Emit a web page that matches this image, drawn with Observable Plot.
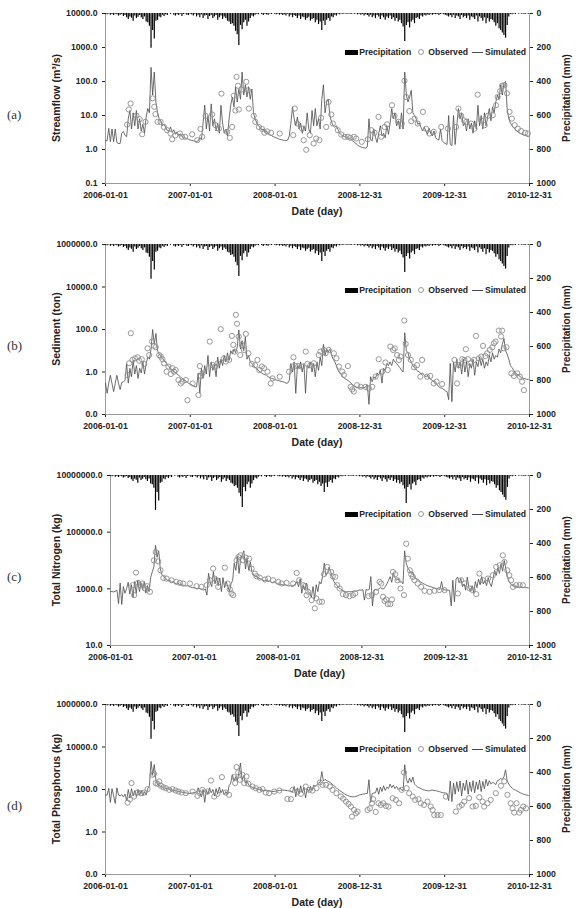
<!DOCTYPE html>
<html><head><meta charset="utf-8">
<script src="https://cdn.jsdelivr.net/npm/d3@7"></script>
<script src="https://cdn.jsdelivr.net/npm/@observablehq/plot@0.6"></script>
<style>
html,body{margin:0;padding:0;background:#fff;overflow:hidden;width:577px;height:908px;}
#root{position:relative;width:577px;height:908px;}
.panel{position:absolute;left:0;width:577px;height:230px;}
.panel svg.plotsvg{position:absolute;left:0;top:0;}
.tag{position:absolute;left:7px;font-family:"Liberation Serif","DejaVu Serif",serif;font-size:13px;color:#333;transform:translateY(-50%);}
.ytitle,.rtitle{position:absolute;font-family:"Liberation Sans",Arial,sans-serif;font-weight:bold;color:#222;white-space:nowrap;transform:translate(-50%,-50%) rotate(-90deg);}
.ytitle{font-size:10.5px;}
.rtitle{font-size:10px;}
.xtitle{position:absolute;font-family:"Liberation Sans",Arial,sans-serif;font-weight:bold;font-size:10.5px;color:#222;white-space:nowrap;transform:translate(-50%,-50%);}
.legend{position:absolute;right:51px;display:flex;align-items:center;font-family:"Liberation Sans",Arial,sans-serif;font-weight:bold;font-size:8.6px;color:#222;transform:translateY(-50%);white-space:nowrap;}
</style>
</head><body><div id="root"></div>
<script>
// ---------- DATA (weekly series starting 2006-01-01) ----------
const xTickLabels = ["2006-01-01","2007-01-01","2008-01-01","2008-12-31","2009-12-31","2010-12-31"];
const precipTicks = [0,200,400,600,800,1000];

const precip = [5,8,3,10,6,12,4,8,15,10,6,18,12,
25,35,20,28,45,15,30,22,12,25,35,20,50,
55,75,205,100,150,45,40,20,25,10,18,8,12,0,
5,0,10,15,8,12,5,18,6,3,10,12,4,
8,15,6,20,10,25,8,30,15,12,35,18,10,
30,20,12,40,25,15,35,20,30,45,50,65,60,
75,105,125,188,70,95,55,40,75,50,30,15,20,
10,5,8,0,6,12,4,8,10,3,6,2,5,
8,4,10,6,12,8,15,5,20,10,25,12,18,
30,15,35,20,25,40,30,22,45,35,30,55,40,
65,50,100,45,70,40,30,45,20,25,10,15,5,
8,3,6,2,5,4,3,6,2,4,3,8,5,
10,6,15,8,12,20,10,25,15,30,12,20,35,
15,25,40,20,30,15,35,25,45,30,50,40,60,
80,165,70,55,85,50,40,60,30,25,35,15,20,
10,15,8,12,5,10,6,8,4,12,6,3,8,
10,15,20,12,25,10,30,15,20,35,12,25,18,
30,15,40,20,25,35,15,50,20,30,45,25,60,
30,50,35,40,55,75,60,90,100,115,130,145,70,
20,5,8,3,6,0,4,2,5,3,6,2,4];

const simFlow = [1.8,1.8,4.2,1.7,4.0,1.7,4.0,1.6,1.5,1.5,3.0,3.4,2.6,
2.4,8,14,4,12,5,14,4,8,3.5,5.5,3,9,
16,12,260,40,190,25,12,8,7,5,5.5,4.5,3.6,3.5,
4.6,3.2,3.8,2.8,3.3,2.6,2.9,2.4,2.3,2.2,2.1,2.0,1.9,
1.85,1.8,1.75,1.7,1.8,2.2,2.0,6,20,4,10,3.5,22,
5,8,3.5,6,3,20,6,3,4,2.5,8,20,35,
18,70,25,60,30,190,40,80,35,70,30,60,12,
8,6,5,4.5,3.8,4,3.2,3.5,2.9,2.7,2.6,2.4,2.3,
2.2,2.1,2.0,1.95,1.9,1.85,1.8,1.9,2.5,6,18,8,5,
9,4,6,3,5,3.5,12,4,3,14,5,16,5,
8,4,30,80,12,25,30,10,6.5,5,4.5,5,3.8,
3,2.7,2.5,2.4,2.3,2.2,2.1,2.0,1.8,1.6,1.5,1.35,1.25,
1.2,1.15,1.12,1.1,1.2,8,2,1.8,4,2.3,1.6,3,5,
2.5,3,2.2,5,2.8,6,16,8,12,5,7,4,12,
4,190,40,25,35,55,12,10,8,5.5,6,4.5,3.5,
4.5,3.5,2.8,4.2,3,2.5,3.5,2.2,2,1.9,4,1.8,1.6,
1.5,1.4,10,1.4,1.3,10,1.4,5,16,8,12,5,6,
3.5,8,4,6,3,7,4,20,5,10,4,12,5,
9,16,7,18,12,25,40,30,80,40,88,100,15,
8,6,5,4.4,3.8,3.5,3.2,3,2.8,2.7,2.6,2.5,2.4];
const obsFlowWeek = [13.3,14.3,15.4,19,21,22.5,24.6,29,30,30.7,32,33.8,35.9,37.9,40,41,43,45.7,47,49,53.3,56.4,58.4,59.4,61.5,65.6,67.6,69.7,71.3,74.8,76.4,77.9,78.9,79.9,80.5,81.4,82,83.6,86.5,87.5,88.1,91.2,92.2,94.3,96.3,97.7,99.4,101.8,107.2,115.4,116.4,117.8,120.9,121.9,123.4,125.6,128,129.5,131.6,132.6,135.7,137.1,138.8,139.8,142.9,145,147,149,150.6,152.7,154.1,157.6,161.3,163.4,165.4,167.9,169.5,171.6,173.2,176.1,177.7,180.2,182.2,183.9,184.9,186.9,188,190,192,195.2,197.2,199.2,201.9,206.4,210.5,215.6,217,218.7,220.4,221.8,224.9,226.9,228.9,231,233.1,235.1,238.2,240.2,241.2,242.7,243.9,245.3,246.9,248.4,249.8,251.5,253.5,255.6,258,259.7];
const obsFlow = [5.4,15,22.5,10,7.8,2.8,6.5,32,18,11,6.5,6.5,4.6,3.7,2.95,2,2.6,2.95,2.36,2.36,2.8,1.88,4,2.36,9.8,10.7,5.2,4.1,44,3.3,2.2,4.6,38,14,137,75,15,58,98,55,16,9.8,6.5,4.6,4,3.1,3.4,3.1,2.95,2.64,16,5.8,4.1,1.88,0.98,2.64,1.5,2.1,1.88,8.5,4.6,25,10.7,5.8,3.7,2.75,2.36,2.36,2.2,2.36,2.1,1.68,2,3.7,3.1,9.1,2.36,4.6,5.5,20,9.8,6.5,5.8,105,35,13.5,6.8,8.1,5.8,12.8,4.1,2.95,3.3,4.6,4.1,4.6,16,9.8,7.2,6.5,5.8,4.1,41,7.2,5.2,9.8,10.2,20,35,52,75,78,45,12.8,8.1,5.2,4.1,3.5,3.1,2.95];

const simSed = [0.3,0.1,0.3,0.7,0.28,0.12,0.3,0.7,0.3,0.15,0.32,0.35,0.4,
2.5,0.3,1.5,0.6,3.5,0.8,2.0,0.5,1.5,0.9,3,0.8,2.5,
5,4,12,100,20,65,10,7,5.5,4.5,3.5,2.8,2.2,1.8,
1.4,1.3,1.1,0.9,0.8,0.7,0.6,0.5,0.45,0.4,0.35,0.3,0.27,
0.25,0.22,0.2,0.2,0.9,0.1,1.5,0.5,2,0.8,6,0.6,3,
1.2,2.2,0.6,5,1.5,4,2,6,3,8,3.5,10,7,
12,8,15,95,12,30,10,45,4,6,3,2.5,2,
1.6,1.4,1.2,1,0.9,0.8,0.75,0.7,0.6,0.55,0.5,0.48,0.45,
0.42,0.4,0.38,0.36,0.35,0.33,0.3,0.3,0.4,2.5,1,3,0.1,
2,1.5,3,1,2.5,0.1,2,1.5,3,1,2.5,0.6,3,
1.2,5,2,20,6,12,9,12,6,4,3,2,1.2,
0.9,0.75,0.6,0.5,0.45,0.4,0.35,0.3,0.25,0.22,0.2,0.18,0.18,
0.18,0.18,0.18,0.2,0.25,0.03,0.6,0.35,0.6,0.5,0.9,0.7,1.2,
0.3,1.5,1.2,2.5,2,3,2,4,3,2.5,2,1.6,1.2,
1,70,10,8,4,3,2,1.6,1.3,1.1,1,0.8,0.9,
0.7,0.6,0.7,0.5,0.45,0.4,0.35,0.3,0.25,0.2,0.18,0.17,0.15,
0.13,0.12,0.05,2.5,0.04,3,1,4,1.5,3,0.8,4,1,
3,0.6,2.5,1.5,4,0.7,3,1.8,5,2,4,1.5,3,
2,6,3,8,4,6,5,12,8,20,38,10,7,
4,2,1.6,1.2,0.9,0.8,0.7,0.6,0.55,0.5,0.48,0.45,0.45];
const obsSedWeek = [13.5,14.5,15.6,16.6,18.2,19.7,20.7,22.3,23.8,25.8,26.8,28.5,29.9,30.9,33,34,35,36,37.5,38.7,40.2,41.2,42.2,43.2,44.9,46.3,47.3,49.4,50.4,53.5,57.2,58,58.6,59.6,64.1,65.8,67.4,68.9,70.9,72.9,74,76,77.7,78.5,79.5,80.1,80.9,81.8,82.8,83.8,85.2,86.3,87.9,90,92,93.4,94.5,96.1,97.5,99.6,101.6,102.7,107.2,112.9,115,115.6,117,118.6,120.7,123.2,124.2,126,128.1,131.2,132.2,134.3,135.3,137.3,140.4,142,143.5,145.5,146.5,149,150.7,151.7,152.7,154.7,156.8,159.9,161.9,164,166,168,170.1,172.2,173.6,175.2,176.9,177.9,179.3,180.4,181.4,183.7,184.5,186,187.7,189.7,191.6,193.6,194.7,197.7,199.7,201.9,203.5,207,214.5,216.2,217.3,219.3,220.7,221.5,222.8,224.4,226.5,227.8,229.5,231,232.2,233.6,234.7,236.3,237.8,238.8,239.8,241.8,243.3,243.9,244.9,246.6,249.6,251.1,253.2,254.8,256.2,257.3];
const obsSed = [0.72,2.57,67,3.7,4.4,4.9,3.4,4,2.4,13,6.3,27,17,14.6,6.3,5.3,4,2.57,1.04,1.8,0.8,1.5,1.04,1.24,0.42,0.29,0.35,0.42,0.047,0.29,0.082,1.9,0.65,0.86,27,2.1,1.8,2.57,104,4.4,3.1,3.7,50,18.8,9.1,490,186,46.5,6.3,18.8,10.9,62,7.6,2.4,2.1,3.7,1.24,1.8,1.5,1.04,0.29,0.5,0.6,1.04,1.8,4.9,1.9,1.9,1.8,9.1,2.4,2.1,2.57,6.3,9.1,10.9,7.6,10.9,7.6,4.4,1.8,1.04,0.72,1.9,0.2,0.15,0.12,0.24,0.2,0.2,0.17,0.2,0.6,4,1.04,2.8,1.24,15.7,10.9,13,6.3,3.7,5.3,265,21,6.3,3.7,1.66,2.1,0.6,3.7,0.6,0.65,0.29,0.35,0.27,3.7,0.29,2.1,4,3.7,11.8,4,2.57,3.7,50,4.4,5.3,17,5.7,7.6,10.9,14.6,22.5,27,89,46.5,89,13,14.6,0.86,0.65,0.86,0.6,0.35,0.14];

const simTN = [800,800,780,820,900,300,1600,280,1200,700,1000,1700,650,
1400,500,1800,700,2000,800,1600,900,1800,700,1300,800,2500,
4000,6000,34000,13000,22000,5000,3200,2700,2400,2100,1900,2000,1700,1800,
1600,1500,1600,1400,1500,1350,1300,1250,1300,1200,1150,1100,1100,
1050,1000,1050,1000,950,900,1000,600,3500,1700,1200,4000,1500,
2500,1300,2400,800,2500,1100,1800,1200,800,1500,2000,8000,4500,
14000,3500,12000,16000,22000,5000,12000,4500,9000,4000,3200,2800,2700,
2400,2300,2100,2000,1900,2100,1800,1900,1700,1650,1800,1550,1500,
1450,1450,1400,1350,1400,1300,1250,1300,1200,1300,1500,1800,1200,
2200,700,1300,900,1600,800,700,500,1200,450,1400,800,1800,
1500,2800,8000,3000,3500,5800,4000,2500,1800,1500,1300,1100,1000,
900,850,800,780,800,780,800,820,850,820,880,900,900,
920,400,950,900,950,2700,250,900,950,900,1000,1100,1000,
1000,1200,1500,2000,2700,1700,3500,2500,2000,2300,1700,1800,1500,
22000,8000,5500,4500,3500,3800,2600,2300,2200,2000,1700,1600,1500,
1400,1300,1250,1200,1150,1100,1050,1000,1000,950,1800,900,920,
900,900,880,250,2000,350,2200,2600,1600,2300,1200,1500,900,
2600,1100,800,1300,700,1800,1100,2200,1400,2700,1500,2000,1300,
2500,1600,1200,2200,4500,3000,5500,3500,7500,4200,10000,5000,2500,
1800,1500,1300,1250,1200,1180,1150,1150,1150,1120,1100,1100,1080];
const obsTNWeek = [13.7,14.7,15.8,17.2,18.3,19.9,21.4,22.8,24.5,27,28.2,29.7,31.1,32.8,34.9,38,41,43.2,45.2,49.4,53.5,56.6,59.8,61.8,63.9,64.9,66,67,71.2,72.8,74.3,75.3,76.3,78.4,79.5,80.9,82.6,84.2,86.3,87.8,89.8,90.9,92.9,96.1,98.1,101.2,104.4,106.4,109.5,113.7,115.8,117.4,119.9,121,122,123,125.1,127.2,128,130,131.5,132.8,134.8,137.3,138.3,139.8,141,142.5,144.6,146.6,148.7,150.8,152.3,160.5,162.6,165.3,167.4,168.4,169.5,170.5,171.5,172.6,174.2,175.1,175.7,177.2,178.6,180.4,182.5,184,185,186.3,187.1,188.1,189.2,191.2,193.3,195.4,198.5,201.6,204.6,207.8,216.1,218.2,220.3,223.4,225.4,227.5,229.6,231.7,234.8,237.9,240,242.1,244.1,245.2,246.8,248.2,249.3,250.4,252.4,254.5,256.6];
const obsTN = [1345,600,3740,1620,1345,1540,1030,1240,785,10100,19800,9350,4520,2430,2300,2010,1760,1620,1540,1540,1240,1175,1345,2010,5170,2300,2010,1175,5600,1540,950,686,600,10100,13300,15200,10100,12600,11600,5170,3450,2780,2500,2130,2300,2010,1760,1540,1620,1540,3640,2010,1345,1240,600,785,400,205,458,350,350,3270,5920,3950,2780,2635,1345,1030,650,600,550,600,686,550,600,785,1760,1540,524,370,420,290,290,420,3950,3270,2010,1030,600,39000,11600,4520,3270,2635,2010,1540,1175,850,785,850,900,900,686,2010,1540,1030,900,650,3450,2010,2300,3020,5920,6770,15200,8850,4520,3020,2010,1175,1345,1345,1345];

const simTP = [55,55,115,25,110,50,22,120,55,50,58,45,60,
30,100,40,110,50,90,45,100,55,90,50,80,55,
110,150,2100,500,1500,270,170,150,140,130,120,115,110,105,
100,95,90,88,85,80,78,75,72,70,68,65,66,
68,70,72,75,120,70,45,100,25,90,60,120,70,
100,50,110,60,130,70,100,55,80,60,150,200,500,
250,400,260,600,1750,280,450,200,270,160,140,130,120,
115,108,100,98,95,92,90,88,86,85,82,80,82,
85,88,90,92,95,92,90,88,85,82,80,140,45,
120,60,150,70,130,40,110,80,140,90,160,140,170,
200,220,700,250,300,260,240,220,190,160,140,120,100,
90,80,70,62,56,52,48,46,45,46,48,50,55,
58,60,62,64,65,290,25,65,68,70,120,60,130,
80,150,90,130,110,180,120,160,110,140,100,120,95,
90,1450,300,200,340,220,380,180,150,130,120,110,100,
95,90,88,86,90,95,90,88,85,80,76,72,70,
68,66,30,250,27,200,60,230,80,250,50,200,90,
280,60,220,80,260,70,230,100,280,80,240,110,300,
150,260,180,220,200,170,260,280,330,300,400,850,250,
180,140,120,100,95,85,78,70,65,60,57,55,52];
const obsTPWeek = [13.5,15,16,17.6,19.7,21.7,23.8,25.8,28.9,29.9,30.9,32,33,34,35.5,37.1,39.1,41.2,43.2,44.9,46.9,49.4,53.5,56.6,58,59.6,62.7,64.8,66.8,68.9,71.5,74,76,79.1,79.7,80.5,81.6,82.6,84.2,85.3,86.7,87.9,90.4,92.4,94.5,96.5,98.6,100.6,103.7,106.8,111.9,114,115,118.1,120.1,123.2,125.2,127.3,129.7,131.8,133.4,135.5,138,139.6,142,144.7,146.1,147.8,149.4,150.9,151.5,152.9,154,155,161.1,162.5,163.8,164.6,166.2,167.9,169.3,170.9,172.4,174,176.5,178.5,180.6,182.2,183.6,185.1,186.7,188.8,190.4,192.4,193.9,195.9,198,200,201.1,202.1,204.1,206.2,209.3,215.4,217.5,219.1,220.5,223.6,225.7,227.7,229.8,231.8,232.8,234.9,236.9,240,243.1,245.1,247.2,249.2,250.3,251.3,252.7,254.4,255.4,256.8,258.5];
const obsTP = [24.3,34.8,200,46.5,72,67,72,104,490,550,200,185,240,150,128,115,96,104,89,80,72,67,80,50,67,96,80,265,46.5,62,380,72,56,380,200,1140,635,285,490,200,410,185,138,115,96,104,72,67,80,89,36,35,96,80,62,138,96,89,115,215,165,165,138,96,67,46.5,37,27,21,15.7,5.3,10.9,7.6,9.1,10.9,13,22.5,35,8.8,22.5,18.8,22.5,16.9,15.7,39,32.5,22.5,96,635,115,67,46.5,32.5,35,22.5,18.8,27,15.7,10.9,6.3,6.3,6.3,46.5,9.1,15.7,18.8,27,39,15.7,16.9,43,27,15.7,22.5,32.5,67,150,240,56,22.5,13,8.2,22.5,8.2,10.9,15.7,13];

// ---------- BUILD ----------
const START = new Date(Date.UTC(2006,0,1));
const toDate = w => d3.utcDay.offset(START, Math.round(w * 7));
const xDomain = [START, new Date(Date.UTC(2010,11,31))];
const xTicks = xTickLabels.map(s => new Date(s + "T00:00:00Z"));
const precipData = precip.map((v,i) => ({date: toDate(i), value: v}));
const fmt1 = d => d.toFixed(1);
const FONT = "'Liberation Sans', Arial, sans-serif";

const panels = [
  {tag:"(a)", top:0, title:"Streamflow (m\u00B3/s)", left:105, domain:[0.1,10000], ticks:[0.1,1,10,100,1000,10000], sim:simFlow, ow:obsFlowWeek, ov:obsFlow, legendY:52},
  {tag:"(b)", top:231, title:"Sediment (ton)", left:105, domain:[0.01,1e6], ticks:[0.01,1,100,1e4,1e6], sim:simSed, ow:obsSedWeek, ov:obsSed, legendY:59},
  {tag:"(c)", top:462, title:"Total Nitrogen (kg)", left:110, domain:[10,1e7], ticks:[10,1000,1e5,1e7], sim:simTN, ow:obsTNWeek, ov:obsTN, legendY:52},
  {tag:"(d)", top:691, title:"Total Phosphorus (kg)", left:105, domain:[0.01,1e6], ticks:[0.01,1,100,1e4,1e6], sim:simTP, ow:obsTPWeek, ov:obsTP, legendY:58}
];

const root = document.getElementById("root");
const H = 230, MT = 13, MB = 47, MR = 48;

for (const p of panels) {
  const div = document.createElement("div");
  div.className = "panel";
  div.style.top = p.top + "px";
  root.appendChild(div);

  const simData = p.sim.slice(0, 261).map((v,i) => ({date: toDate(i), value: v}));
  const obsData = p.ow.map((w,i) => ({date: toDate(w), value: p.ov[i]}));

  const main = Plot.plot({
    width: 577, height: H,
    marginTop: MT, marginBottom: MB, marginLeft: p.left, marginRight: MR,
    style: {background: "transparent", overflow: "visible", fontFamily: FONT, fontSize: "8.7px", fontWeight: "bold", color: "#222"},
    x: {type: "utc", domain: xDomain, ticks: xTicks, tickFormat: d3.utcFormat("%Y-%m-%d"), tickSize: 3, tickPadding: 5, label: null},
    y: {type: "log", domain: p.domain, ticks: p.ticks, tickFormat: fmt1, tickSize: 3, tickPadding: 5, label: null},
    marks: [
      Plot.ruleX([xDomain[0], xDomain[1]], {stroke: "#9a9a9a", strokeWidth: 1}),
      Plot.ruleY([p.domain[0]], {stroke: "#9a9a9a", strokeWidth: 1}),
      Plot.line(simData, {x: "date", y: "value", stroke: "#4a4a4a", strokeWidth: 0.8}),
      Plot.dot(obsData, {x: "date", y: "value", r: 2.6, stroke: "#8c8c8c", strokeWidth: 0.9, fill: "none"})
    ]
  });
  main.classList.add("plotsvg");
  div.appendChild(main);

  const pre = Plot.plot({
    width: 577, height: H,
    marginTop: MT, marginBottom: MB, marginLeft: p.left, marginRight: MR,
    style: {background: "transparent", overflow: "visible", fontFamily: FONT, fontSize: "8.7px", fontWeight: "bold", color: "#222"},
    x: {type: "utc", domain: xDomain, axis: null},
    y: {domain: [0, 1000], reverse: true, axis: "right", ticks: precipTicks, tickFormat: d => String(d), tickSize: 3, tickPadding: 4, label: null},
    marks: [
      Plot.ruleX(precipData, {x: "date", y1: d => 0, y2: "value", stroke: "#000", strokeWidth: 1.2})
    ]
  });
  pre.classList.add("plotsvg");
  div.appendChild(pre);

  const tag = document.createElement("div");
  tag.className = "tag"; tag.textContent = p.tag;
  tag.style.top = "115px";
  div.appendChild(tag);

  const yt = document.createElement("div");
  yt.className = "ytitle"; yt.textContent = p.title;
  yt.style.left = "56px"; yt.style.top = "98px";
  div.appendChild(yt);

  const rt = document.createElement("div");
  rt.className = "rtitle"; rt.textContent = "Precipitation (mm)";
  rt.style.left = "566px"; rt.style.top = "98px";
  div.appendChild(rt);

  const xt = document.createElement("div");
  xt.className = "xtitle"; xt.textContent = "Date (day)";
  xt.style.left = ((p.left + 577 - MR) / 2) + "px"; xt.style.top = "211px";
  div.appendChild(xt);

  const lg = document.createElement("div");
  lg.className = "legend";
  lg.style.top = p.legendY + "px";
  lg.innerHTML = '<span style="display:inline-block;width:13px;height:5px;background:#000;margin-right:1px"></span>Precipitation' +
    '<svg width="6" height="6" style="margin:0 4px 0 7px;overflow:visible"><circle cx="3" cy="3" r="2.5" fill="none" stroke="#8c8c8c" stroke-width="0.9"/></svg>Observed' +
    '<span style="display:inline-block;width:11px;height:1px;background:#4a4a4a;margin:0 2px 0 4px"></span>Simulated';
  div.appendChild(lg);
}
</script>
</body></html>
